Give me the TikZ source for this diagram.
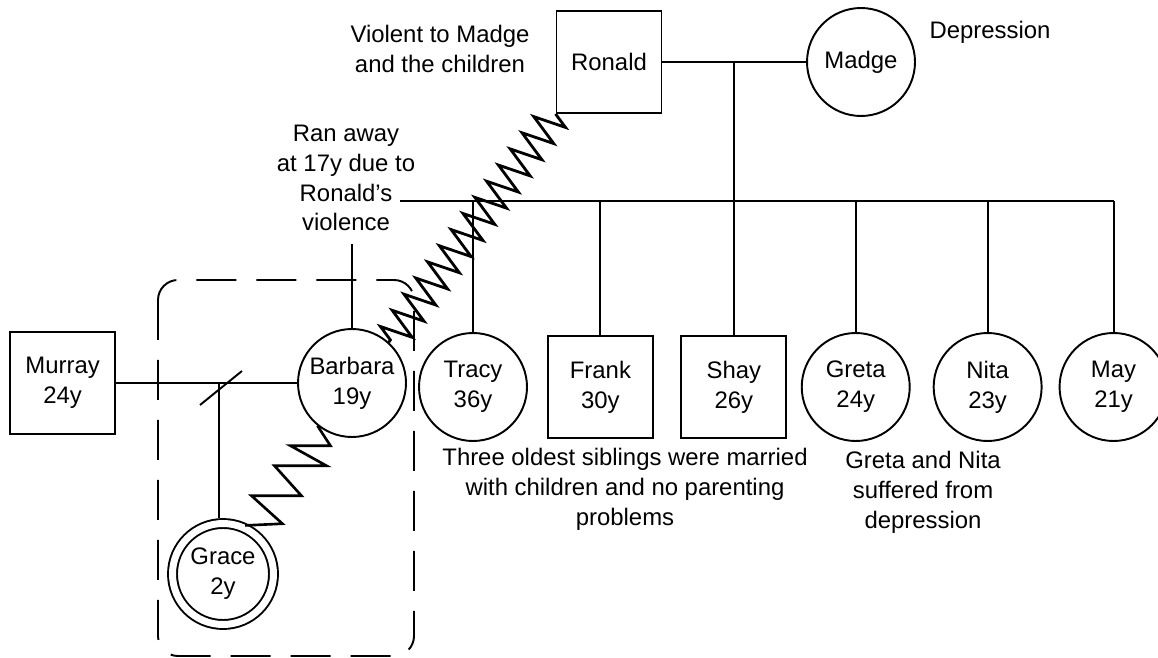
\documentclass[tikz,border=0pt]{standalone}
\usepackage{fontspec}
\setmainfont{Liberation Sans}
\usetikzlibrary{positioning,decorations.pathmorphing}

\tikzset{
	person/.style={draw, line width=1.1pt, inner sep=0pt, align=center},
	male/.style={person, rectangle, minimum width=2.1cm, minimum height=2.04cm},
	female/.style={person, circle, minimum size=2.16cm},
	child/.style={person, circle, double, double distance=0.14cm, minimum size=2.02cm},
	note/.style={align=center, inner sep=0pt},
	link/.style={line width=1.1pt},
	abuse/.style={line width=1.6pt, decorate, decoration={zigzag, segment length=0.4cm, amplitude=0.32cm}},
	household/.style={line width=1.1pt, dash pattern=on 0.8cm off 0.4cm, rounded corners=0.4cm},
}

\begin{document}
\begin{tikzpicture}[x=0.02cm, y=-0.02cm, every node/.style={font=\fontsize{13.6pt}{17pt}\selectfont}]
	\useasboundingbox (0,0) rectangle (1158,658);
	
	% Barbara's household
	\draw[household] (158,280) rectangle (414,656);
	
	% parents
	\node[male] (ronald) at (609,62) {Ronald};
	\node[female] (madge) at (861,62) {Madge};
	
	% siblings
	\node[female] (tracy) at (473,387) {Tracy\\36y};
	\node[male, right=0.38cm of tracy] (frank) {Frank\\30y};
	\node[male, right=0.53cm of frank] (shay) {Shay\\26y};
	\node[female, right=0.27cm of shay] (greta) {Greta\\24y};
	\node[female, right=0.44cm of greta] (nita) {Nita\\23y};
	\node[female, right=0.32cm of nita] (may) {May\\21y};
	
	% Barbara, Murray and Grace
	\node[female] (barbara) at (352,383) {Barbara\\19y};
	\node[male, left=3.62cm of barbara] (murray) {Murray\\24y};
	\node[child] (grace) at (223,574) {Grace\\2y};
	
	% notes
	\node[note] (violent) at (440,49) {Violent to Madge\\and the children};
	\node[note] (depr) at (990,32) {Depression};
	\node[note] (ranaway) at (346,178) {Ran away\\at 17y due to\\Ronald's\\violence};
	\node[note] (oldest) at (625,489) {Three oldest siblings were married\\with children and no parenting\\problems};
	\node[note] (gretanita) at (923,492) {Greta and Nita\\suffered from\\depression};
	
	\coordinate (mid) at (shay.north |- ronald.east);
	\coordinate (sibL) at (400,201);
	\coordinate[above=1.68cm of barbara.north] (ranTop);
	\coordinate (div) at (219,382);
	
	% family lines
	\draw[link] (ronald) -- (madge);
	\draw[link] (mid) -- (shay.north);
	\draw[link] (sibL) -- (sibL -| may.north);
	\foreach \kid in {tracy,frank,greta,nita,may}
		\draw[link] (\kid.north) -- (\kid.north |- sibL);
	\draw[link] (barbara.north) -- (ranTop);
	
	% Barbara and Murray, separated
	\draw[link] (murray) -- (barbara);
	\draw[link] (div) +(-19,23) -- +(23,-11);
	\draw[link, shorten >=0.09cm] (div) -- (div |- grace.north);
	
	% violent relations
	\draw[abuse] (ronald.south west) -- (barbara.48);
	\draw[link, line width=1.5pt, shorten >=0.09cm] (barbara.231) -- ++(13,20) -- ++(-40,0) -- ++(36,20) -- ++(-52,0)
		-- ++(27,30) -- ++(-50,0) -- ++(31,28) -- (grace.70);
\end{tikzpicture}
\end{document}
